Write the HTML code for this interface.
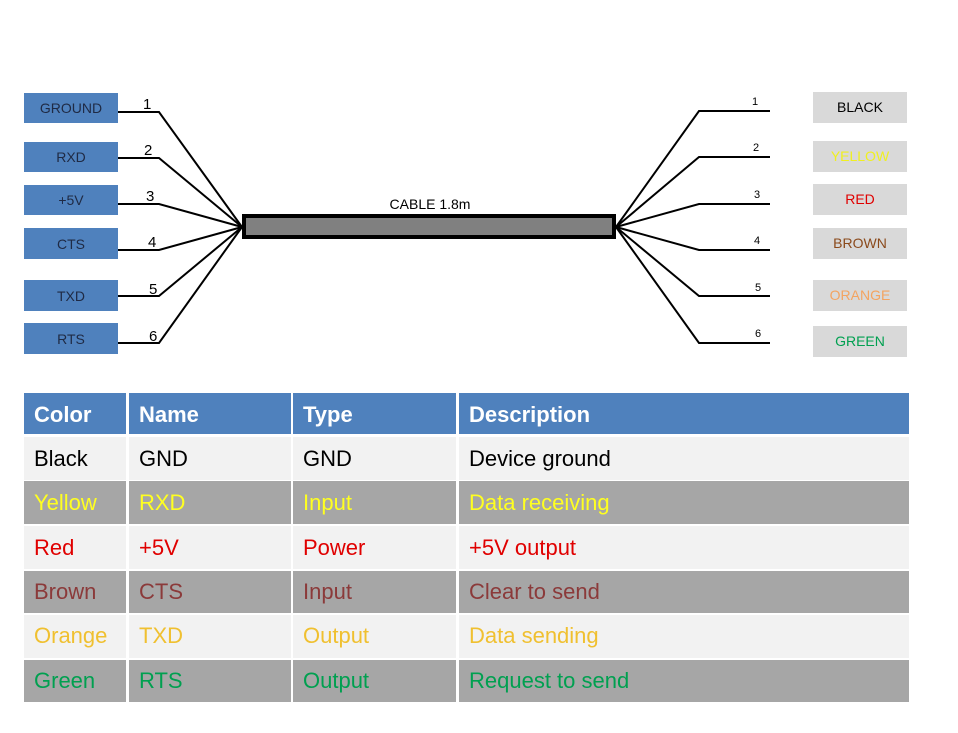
<!DOCTYPE html>
<html><head><meta charset="utf-8"><style>
html,body{margin:0;padding:0;background:#fff;width:958px;height:733px;overflow:hidden}
svg{display:block}
text{font-family:"Liberation Sans",sans-serif}
</style></head><body>
<svg width="958" height="733" viewBox="0 0 958 733" xmlns="http://www.w3.org/2000/svg">
<g fill="#4f81bd">
<rect x="24" y="93" width="94" height="30"/>
<rect x="24" y="142" width="94" height="30"/>
<rect x="24" y="185" width="94" height="30"/>
<rect x="24" y="228" width="94" height="31"/>
<rect x="24" y="280" width="94" height="31"/>
<rect x="24" y="323" width="94" height="31"/>
</g>
<g font-size="14" fill="#1f2a44" text-anchor="middle">
<text x="71" y="113">GROUND</text>
<text x="71" y="162">RXD</text>
<text x="71" y="205">+5V</text>
<text x="71" y="249">CTS</text>
<text x="71" y="301">TXD</text>
<text x="71" y="344">RTS</text>
</g>
<g fill="none" stroke="#000" stroke-width="2">
<polyline points="118,112 159,112 242,227"/>
<polyline points="118,158 159,158 242,227"/>
<polyline points="118,204 159,204 242,227"/>
<polyline points="118,250 159,250 242,227"/>
<polyline points="118,296 159,296 242,227"/>
<polyline points="118,343 159,343 242,227"/>
</g>
<g font-size="15" fill="#000">
<text x="143" y="109">1</text>
<text x="144" y="155">2</text>
<text x="146" y="201">3</text>
<text x="148" y="247">4</text>
<text x="149" y="294">5</text>
<text x="149" y="341">6</text>
</g>
<rect x="244" y="216" width="370" height="21" fill="#808080" stroke="#000" stroke-width="4"/>
<text x="430" y="209" font-size="14" text-anchor="middle">CABLE 1.8m</text>
<g fill="none" stroke="#000" stroke-width="2">
<polyline points="616,227 699,111 770,111"/>
<polyline points="616,227 699,157 770,157"/>
<polyline points="616,227 699,204 770,204"/>
<polyline points="616,227 699,250 770,250"/>
<polyline points="616,227 699,296 770,296"/>
<polyline points="616,227 699,343 770,343"/>
</g>
<g font-size="11" fill="#000">
<text x="752" y="105">1</text>
<text x="753" y="151">2</text>
<text x="754" y="198">3</text>
<text x="754" y="244">4</text>
<text x="755" y="291">5</text>
<text x="755" y="337">6</text>
</g>
<g fill="#d9d9d9">
<rect x="813" y="92" width="94" height="31"/>
<rect x="813" y="141" width="94" height="31"/>
<rect x="813" y="184" width="94" height="31"/>
<rect x="813" y="228" width="94" height="31"/>
<rect x="813" y="280" width="94" height="31"/>
<rect x="813" y="326" width="94" height="31"/>
</g>
<g font-size="14" text-anchor="middle">
<text x="860" y="112" fill="#000">BLACK</text>
<text x="860" y="161" fill="#f0f020">YELLOW</text>
<text x="860" y="204" fill="#e00000">RED</text>
<text x="860" y="248" fill="#8b4a1c">BROWN</text>
<text x="860" y="300" fill="#f4a460">ORANGE</text>
<text x="860" y="346" fill="#00a050">GREEN</text>
</g>
<rect x="24" y="393" width="885" height="41" fill="#4f81bd"/>
<rect x="24" y="437" width="885" height="43" fill="#f2f2f2"/>
<rect x="24" y="481" width="885" height="43" fill="#a6a6a6"/>
<rect x="24" y="526" width="885" height="43" fill="#f2f2f2"/>
<rect x="24" y="571" width="885" height="42" fill="#a6a6a6"/>
<rect x="24" y="615" width="885" height="43" fill="#f2f2f2"/>
<rect x="24" y="660" width="885" height="42" fill="#a6a6a6"/>
<g fill="#fff">
<rect x="126" y="393" width="3" height="309"/>
<rect x="291" y="393" width="2" height="309"/>
<rect x="456" y="393" width="3" height="309"/>
</g>
<g font-size="22" font-weight="bold" fill="#fff">
<text x="34" y="422">Color</text><text x="139" y="422">Name</text><text x="303" y="422">Type</text><text x="469" y="422">Description</text>
</g>
<g font-size="22">
<g fill="#000"><text x="34" y="466">Black</text><text x="139" y="466">GND</text><text x="303" y="466">GND</text><text x="469" y="466">Device ground</text></g>
<g fill="#ffff20"><text x="34" y="510">Yellow</text><text x="139" y="510">RXD</text><text x="303" y="510">Input</text><text x="469" y="510">Data receiving</text></g>
<g fill="#e00000"><text x="34" y="555">Red</text><text x="139" y="555">+5V</text><text x="303" y="555">Power</text><text x="469" y="555">+5V output</text></g>
<g fill="#8b3a3a"><text x="34" y="599">Brown</text><text x="139" y="599">CTS</text><text x="303" y="599">Input</text><text x="469" y="599">Clear to send</text></g>
<g fill="#f0c030"><text x="34" y="643">Orange</text><text x="139" y="643">TXD</text><text x="303" y="643">Output</text><text x="469" y="643">Data sending</text></g>
<g fill="#00a050"><text x="34" y="688">Green</text><text x="139" y="688">RTS</text><text x="303" y="688">Output</text><text x="469" y="688">Request to send</text></g>
</g>
</svg>
</body></html>
